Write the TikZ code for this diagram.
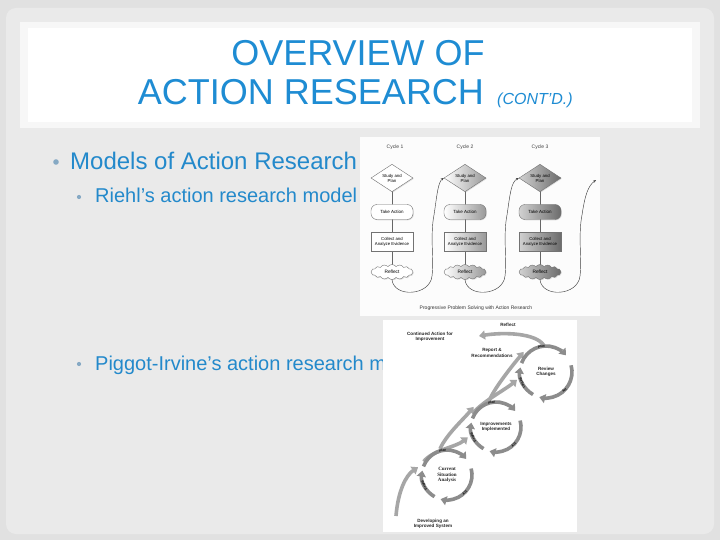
\documentclass[tikz,border=0pt]{standalone}
\usepackage{fontspec}
\setmainfont{Liberation Sans}
\newfontfamily\labelserif{Liberation Serif}
\usepackage{tikz}
\usetikzlibrary{positioning,shapes.geometric,shapes.symbols,shadows,arrows.meta,calc}

\definecolor{slidebg}{HTML}{E1E1E1}
\definecolor{panelbg}{HTML}{EAEAEA}
\definecolor{titleblue}{HTML}{1E8CD3}
\definecolor{bodyblue}{HTML}{2389CB}
\definecolor{dotblue}{HTML}{86A9C4}

\tikzset{
  titletext/.style={text=titleblue, inner sep=0pt, font=\fontsize{36}{40}\selectfont},
  contd/.style={text=titleblue, inner sep=0pt, font=\fontsize{16}{18}\selectfont\itshape},
  mainbullet/.style={text=bodyblue, inner sep=0pt, font=\fontsize{24}{28}\selectfont},
  subbullet/.style={text=bodyblue, inner sep=0pt, font=\fontsize{20}{24}\selectfont},
  cyclehead/.style={text=black!75, inner sep=0pt, font=\fontsize{5}{6}\selectfont},
  riehlcap/.style={text=black!80, inner sep=0pt, font=\fontsize{5}{6}\selectfont},
  studybox/.style={diamond, draw=black!55, minimum width=42pt, minimum height=25pt,
    inner sep=0pt, align=center, font=\fontsize{4.3}{5}\selectfont,
    drop shadow={opacity=0.25, shadow xshift=0.8pt, shadow yshift=-0.8pt}},
  actbox/.style={rectangle, rounded corners=6pt, draw=black!55, minimum width=42pt,
    minimum height=15pt, inner sep=0pt, font=\fontsize{4.5}{5}\selectfont,
    drop shadow={opacity=0.25, shadow xshift=0.8pt, shadow yshift=-0.8pt}},
  collectbox/.style={rectangle, draw=black!55, minimum width=42pt, minimum height=19pt,
    inner sep=0pt, align=center, font=\fontsize{4.3}{5}\selectfont,
    drop shadow={opacity=0.25, shadow xshift=0.8pt, shadow yshift=-0.8pt}},
  reflectbox/.style={cloud, cloud puffs=16, cloud puff arc=110, aspect=3.2, draw=black!55,
    minimum width=42pt, minimum height=15pt, inner sep=0pt, font=\fontsize{4.8}{5}\selectfont,
    drop shadow={opacity=0.25, shadow xshift=0.8pt, shadow yshift=-0.8pt}},
  plainfill/.style={fill=white},
  shadetwo/.style={left color=white, right color=black!40},
  shadethree/.style={left color=black!18, right color=black!58},
  stemline/.style={draw=black!60, line width=0.4pt},
  curvyarrow/.style={draw=black!75, line width=0.45pt, -{Stealth[length=3pt,width=2.4pt]}},
  cycarrow/.style={draw=black!45, line width=3.6pt, -{Triangle[length=6pt,width=9pt]}},
  risearrow/.style={draw=black!35, line width=3.6pt, -{Triangle[length=6pt,width=9pt]}},
  arclabel/.style={text=black, inner sep=0pt, font=\fontsize{3.2}{3.5}\selectfont\bfseries},
  pitext/.style={text=black!85, inner sep=0pt, align=center, font=\fontsize{4.6}{5.4}\selectfont\bfseries},
  piserif/.style={text=black!85, inner sep=0pt, align=center, font=\fontsize{5}{5.8}\selectfont\labelserif\bfseries}
}

\begin{document}
\begin{tikzpicture}[x=1pt,y=-1pt]
\useasboundingbox (0,0) rectangle (720,540);
% slide background and title band
\fill[slidebg] (0,0) rectangle (720,540);
\fill[panelbg, rounded corners=10pt] (6,8) rectangle (714,534);
\fill[black!3] (20,22) rectangle (700,128);
\fill[white] (28,28) rectangle (692,122);

\node[titletext, anchor=base] (ttlone) at (358,66) {OVERVIEW OF};
\node[titletext, anchor=base] (ttltwo) at (311,105) {ACTION RESEARCH};
\node[contd, anchor=base west] (ttlcont) at (497,105) {(CONT’D.)};

% bullets
\fill[dotblue] (56,162) circle (2.8pt);
\node[mainbullet, anchor=base west] (models) at (70,170) {Models of Action Research};
\fill[dotblue] (79,197) circle (2.1pt);
\node[subbullet, anchor=base west] (riehl) at (95,203) {Riehl’s action research model};
\fill[dotblue] (79,364) circle (2.1pt);
\node[subbullet, anchor=base west] (piggot) at (95,370) {Piggot-Irvine’s action research m};

% Riehl's model
\fill[black!1] (360,137) rectangle (600,316);
\node[cyclehead] (cycone) at (395,147) {Cycle 1};
\node[cyclehead] (cyctwo) at (465,147) {Cycle 2};
\node[cyclehead] (cycthree) at (540,147) {Cycle 3};

\draw[stemline] (392,178) -- (392,272);
\draw[stemline] (465,178) -- (465,272);
\draw[stemline] (540,178) -- (540,272);

\node[studybox, plainfill] (planone) at (392,178) {Study and\\Plan};
\node[actbox, plainfill] (actone) at (392,212) {Take Action};
\node[collectbox, plainfill] (collone) at (392,242) {Collect and\\Analyze Evidence};
\node[reflectbox, plainfill] (reflone) at (392,272) {Reflect};

\node[studybox, shadetwo] (plantwo) at (465,178) {Study and\\Plan};
\node[actbox, shadetwo] (acttwo) at (465,212) {Take Action};
\node[collectbox, shadetwo] (colltwo) at (465,242) {Collect and\\Analyze Evidence};
\node[reflectbox, shadetwo] (refltwo) at (465,272) {Reflect};

\node[studybox, shadethree] (planthree) at (540,178) {Study and\\Plan};
\node[actbox, shadethree] (actthree) at (540,212) {Take Action};
\node[collectbox, shadethree] (collthree) at (540,242) {Collect and\\Analyze Evidence};
\node[reflectbox, shadethree] (reflthree) at (540,272) {Reflect};

\coordinate (riehlend) at (596,180);
\draw[curvyarrow] (reflone.south) .. controls (394,298) and (430,296) .. (432,276)
  .. controls (434,260) and (430,235) .. (434,215) .. controls (437,195) and (438,182) .. (plantwo.west);
\draw[curvyarrow] (refltwo.south) .. controls (467,298) and (503,296) .. (505,276)
  .. controls (507,260) and (503,235) .. (507,215) .. controls (510,195) and (511,182) .. (planthree.west);
\draw[curvyarrow] (reflthree.south) .. controls (542,298) and (578,296) .. (580,276)
  .. controls (582,260) and (578,235) .. (582,215) .. controls (585,195) and (588,186) .. (riehlend);

\node[riehlcap] (riehltitle) at (476,308) {Progressive Problem Solving with Action Research};

% Piggot-Irvine's model
\fill[white] (383,320) rectangle (577,532);
\coordinate (cyca) at (447,475);
\coordinate (cycb) at (496,427);
\coordinate (cycc) at (546,372);
\coordinate (develstart) at (396,516);
\coordinate (contend) at (479,336);

% rising arrows
\draw[risearrow] (develstart) .. controls +(2,-25) and +(-12,8) .. ($(cyca)+(-165:30)$);
\draw[risearrow] ($(cyca)+(-150:27)$) .. controls +(10,-12) and +(-12,10) .. ($(cycb)+(-200:30)$);
\draw[risearrow] ($(cyca)+(-105:27)$) .. controls +(6,-14) and +(-10,12) .. ($(cycb)+(-138:30)$);
\draw[risearrow] ($(cycb)+(-150:27)$) .. controls +(10,-12) and +(-12,10) .. ($(cycc)+(-195:30)$);
\draw[risearrow] ($(cycb)+(-105:27)$) .. controls +(6,-14) and +(-10,12) .. ($(cycc)+(-138:30)$);
\draw[risearrow] ($(cycc)+(-95:27)$) .. controls +(-8,-12) and +(25,-4) .. (contend);

% cycles
\draw[cycarrow] ($(cyca)+(-160:25)$) arc[start angle=-160, end angle=-40, radius=25];
\draw[cycarrow] ($(cyca)+(-15:25)$) arc[start angle=-15, end angle=105, radius=25];
\draw[cycarrow] ($(cyca)+(120:25)$) arc[start angle=120, end angle=190, radius=25];
\draw[cycarrow] ($(cycb)+(-160:25)$) arc[start angle=-160, end angle=-40, radius=25];
\draw[cycarrow] ($(cycb)+(-15:25)$) arc[start angle=-15, end angle=105, radius=25];
\draw[cycarrow] ($(cycb)+(120:25)$) arc[start angle=120, end angle=190, radius=25];
\draw[cycarrow] ($(cycc)+(-160:26)$) arc[start angle=-160, end angle=-40, radius=26];
\draw[cycarrow] ($(cycc)+(-15:26)$) arc[start angle=-15, end angle=105, radius=26];
\draw[cycarrow] ($(cycc)+(120:26)$) arc[start angle=120, end angle=190, radius=26];

\node[arclabel, rotate=10] (plana) at ($(cyca)+(-100:25)$) {Plan};
\node[arclabel, rotate=45] (acta) at ($(cyca)+(45:25)$) {Act};
\node[arclabel, rotate=-65] (refla) at ($(cyca)+(155:25)$) {Reflect};
\node[arclabel, rotate=10] (planb) at ($(cycb)+(-100:25)$) {Plan};
\node[arclabel, rotate=45] (actb) at ($(cycb)+(45:25)$) {Act};
\node[arclabel, rotate=-65] (reflb) at ($(cycb)+(155:25)$) {Reflect};
\node[arclabel, rotate=10] (planc) at ($(cycc)+(-100:26)$) {Plan};
\node[arclabel, rotate=45] (actc) at ($(cycc)+(45:26)$) {Act};
\node[arclabel, rotate=-65] (reflc) at ($(cycc)+(155:26)$) {Reflect};

\node[pitext] (pireflect) at (508,325) {Reflect};
\node[pitext] (picont) at (430,337) {Continued Action for\\Improvement};
\node[pitext] (pireport) at (492,353) {Report \&\\Recommendations};
\node[pitext] (pireview) at (cycc) {Review\\Changes};
\node[pitext] (piimpl) at (cycb) {Improvements\\Implemented};
\node[piserif] (picurrent) at (cyca) {Current\\Situation\\Analysis};
\node[pitext] (pidevel) at (433,524) {Developing an\\Improved System};
\end{tikzpicture}
\end{document}
